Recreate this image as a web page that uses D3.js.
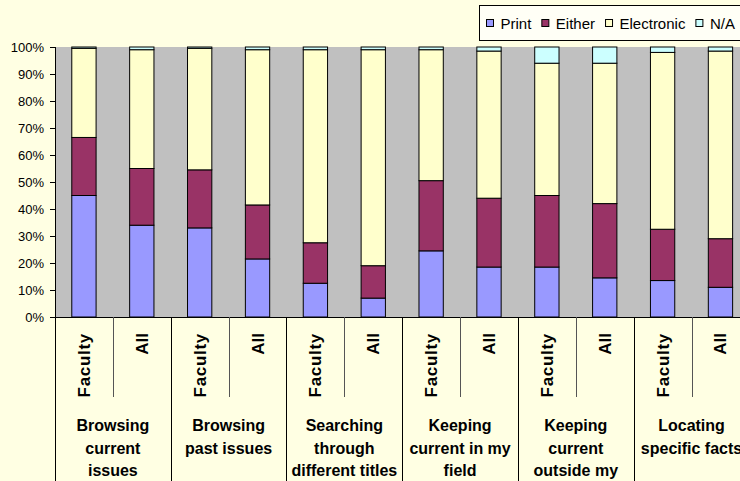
<html><head>
<script src="https://d3js.org/d3.v7.min.js"></script>
<style>
  body { margin: 0; background: #FFFFE3; }
  text { font-family: Arial, "Liberation Sans", sans-serif; fill: #000; }
</style>
</head>
<body>
<div id="chart"></div>
<script>
    const svgWidth = 740;
    const svgHeight = 481;
    const plotLeft = 55, plotTop = 47, plotBottom = 317, plotRight = 749.4;

    // data (percent)
    const groups = [
        ["Browsing", "current", "issues"],
        ["Browsing", "past issues"],
        ["Searching", "through", "different titles"],
        ["Keeping", "current in my", "field"],
        ["Keeping", "current", "outside my", "field"],
        ["Locating", "specific facts"]
    ];
    const subCats = ["Faculty", "All"];
    const seriesNames = ["Print", "Either", "Electronic", "N/A"];
    const colors = ["#9999FF", "#993366", "#FFFFCC", "#CCFFFF"];
    const print      = [45, 34, 33, 21.5, 12.5, 7, 24.5, 18.5, 18.5, 14.5, 13.5, 11];
    const either     = [21.5, 21, 21.5, 20, 15, 12, 26, 25.5, 26.5, 27.5, 19, 18];
    const electronic = [33, 44, 45, 57.5, 71.5, 80, 48.5, 54.5, 49, 52, 65.5, 69.5];
    const na         = [0.5, 1, 0.5, 1, 1, 1, 1, 1.5, 6, 6, 2, 1.5];
    const yTicks = [0, 10, 20, 30, 40, 50, 60, 70, 80, 90, 100];

    const rows = [];
    groups.forEach((g, gi) => subCats.forEach((s, si) => {
        const i = gi * 2 + si;
        rows.push({key: gi + "-" + s, group: gi, sub: s,
            "Print": print[i], "Either": either[i], "Electronic": electronic[i], "N/A": na[i]});
    }));

    const svg = d3.select("#chart").append("svg")
        .attr("width", svgWidth).attr("height", svgHeight);

    const x = d3.scaleBand().domain(rows.map(d => d.key))
        .range([plotLeft, plotRight]).paddingInner(0.58).paddingOuter(0.29);
    const xGroup = d3.scaleBand().domain(d3.range(groups.length)).range([plotLeft, plotRight]);
    const y = d3.scaleLinear().domain([0, 100]).range([plotBottom, plotTop]);

    // plot background
    svg.append("rect")
        .attr("x", plotLeft).attr("y", plotTop)
        .attr("width", plotRight - plotLeft).attr("height", plotBottom - plotTop)
        .attr("fill", "#C0C0C0");

    // stacked bars
    const stacked = d3.stack().keys(seriesNames)(rows);
    svg.append("g").selectAll("g").data(stacked).join("g")
        .attr("fill", (d, i) => colors[i])
        .selectAll("rect").data(d => d).join("rect")
        .attr("x", d => x(d.data.key))
        .attr("width", x.bandwidth())
        .attr("y", d => y(d[1]))
        .attr("height", d => y(d[0]) - y(d[1]))
        .attr("stroke", "#000").attr("stroke-width", 1);

    // y axis
    const yAxis = svg.append("g")
        .attr("transform", "translate(" + plotLeft + ",0)")
        .call(d3.axisLeft(y).tickValues(yTicks).tickFormat(d => d + "%").tickSize(5).tickSizeOuter(0));
    yAxis.select(".domain").remove();
    yAxis.selectAll("text").style("font-size", "13px").style("font-family", "Arial, 'Liberation Sans', sans-serif")
        .attr("fill", "#111").attr("x", -11);
    yAxis.selectAll("line").attr("stroke", "#000");

    svg.append("line").attr("x1", plotLeft + 0.5).attr("x2", plotLeft + 0.5)
        .attr("y1", plotTop).attr("y2", svgHeight).attr("stroke", "#000");
    svg.append("line").attr("x1", plotLeft).attr("x2", plotRight)
        .attr("y1", plotBottom + 0.5).attr("y2", plotBottom + 0.5).attr("stroke", "#000");

    // category axis: inner separators, group separators
    const axisG = svg.append("g");
    groups.forEach((g, gi) => {
        const gx = xGroup(gi);
        const mid = gx + xGroup.bandwidth() / 2;
        axisG.append("line").attr("x1", Math.round(mid) + 0.5).attr("x2", Math.round(mid) + 0.5)
            .attr("y1", plotBottom).attr("y2", 397).attr("stroke", "#555");
        axisG.append("line").attr("x1", Math.round(gx + xGroup.bandwidth()) + 0.5)
            .attr("x2", Math.round(gx + xGroup.bandwidth()) + 0.5)
            .attr("y1", plotBottom).attr("y2", svgHeight).attr("stroke", "#000");
        const t = axisG.append("text")
            .attr("text-anchor", "middle")
            .style("font-size", "16px").style("font-weight", "bold");
        g.forEach((line, li) => {
            t.append("tspan").attr("x", mid).attr("y", 431 + li * 22.7).text(line);
        });
    });
    rows.forEach(d => {
        const cx = x(d.key) + x.bandwidth() / 2;
        axisG.append("text")
            .attr("transform", "translate(" + (cx + 6) + ",333) rotate(-90)")
            .attr("text-anchor", "end")
            .style("font-size", "17px").style("font-weight", "bold")
            .style("letter-spacing", d.sub === "Faculty" ? "0.7px" : "0px")
            .text(d.sub);
    });

    // legend
    const legend = svg.append("g");
    legend.append("rect").attr("x", 479.5).attr("y", 5.5).attr("width", 300).attr("height", 35)
        .attr("fill", "#FFFFF6").attr("stroke", "#000");
    let lx = 486;
    seriesNames.forEach((name, i) => {
        legend.append("rect").attr("x", lx + 0.5).attr("y", 19.5).attr("width", 7).attr("height", 7)
            .attr("fill", colors[i]).attr("stroke", "#000");
        const txt = legend.append("text").attr("x", lx + 14.5).attr("y", 28.5)
            .style("font-size", "15px").text(name);
        lx = lx + 14.5 + txt.node().getComputedTextLength() + 10;
    });
</script>
</body></html>
